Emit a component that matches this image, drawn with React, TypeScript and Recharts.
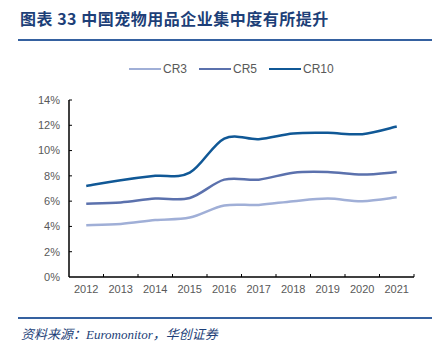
import { LineChart, Line, XAxis, YAxis } from 'recharts';

const years = ['2012', '2013', '2014', '2015', '2016', '2017', '2018', '2019', '2020', '2021'];
const cr3 = [4.1, 4.2, 4.5, 4.7, 5.65, 5.7, 6.0, 6.2, 6.0, 6.3];
const cr5 = [5.8, 5.9, 6.2, 6.25, 7.7, 7.7, 8.25, 8.3, 8.1, 8.3];
const cr10 = [7.2, 7.65, 8.0, 8.25, 10.95, 10.9, 11.35, 11.4, 11.3, 11.9];
const yTicks = [0, 2, 4, 6, 8, 10, 12, 14];

const data = years.map((year, i) => ({ year, cr3: cr3[i], cr5: cr5[i], cr10: cr10[i] }));

const series = [
  { key: 'cr3', name: 'CR3', color: '#a0afd7' },
  { key: 'cr5', name: 'CR5', color: '#5b71ad' },
  { key: 'cr10', name: 'CR10', color: '#105896' },
];

// excel-like smoothed line (catmull-rom through the points)
const smooth = (context: any) => {
  let pts: number[][] = [];
  return {
    areaStart() {},
    areaEnd() {},
    lineStart() { pts = []; },
    point(x: number, y: number) { pts.push([+x, +y]); },
    lineEnd() {
      if (!pts.length) return;
      context.moveTo(pts[0][0], pts[0][1]);
      for (let i = 0; i < pts.length - 1; i++) {
        const p0 = pts[Math.max(i - 1, 0)];
        const p1 = pts[i];
        const p2 = pts[i + 1];
        const p3 = pts[Math.min(i + 2, pts.length - 1)];
        context.bezierCurveTo(
          p1[0] + (p2[0] - p0[0]) / 6, p1[1] + (p2[1] - p0[1]) / 6,
          p2[0] - (p3[0] - p1[0]) / 6, p2[1] - (p3[1] - p1[1]) / 6,
          p2[0], p2[1]
        );
      }
    },
  };
};

const tickFont = { fontFamily: '"Liberation Sans", Arial, sans-serif', fontSize: 11, fill: '#595959' };
const STEP = 34.5;

const XTick = (props: any) => {
  const { x, y, payload } = props;
  return (
    <g>
      <line x1={x + STEP / 2} x2={x + STEP / 2} y1={y - 8} y2={y - 11} stroke="#000" strokeWidth={1} />
      <text x={x} y={y} dy="0.71em" textAnchor="middle" {...tickFont}>{payload.value}</text>
    </g>
  );
};

const YTick = (props: any) => {
  const { x, y, payload } = props;
  return (
    <g>
      {payload.value !== 0 && <line x1={x + 9} x2={x + 12} y1={y} y2={y} stroke="#000" strokeWidth={1} />}
      <text x={x} y={y} dy="0.355em" textAnchor="end" {...tickFont}>{payload.value}%</text>
    </g>
  );
};

const App = () => {
  return (
    <div style={{ position: 'fixed', left: 0, top: 0, width: 441, height: 345, background: '#fff', overflow: 'hidden' }}>
      <div style={{ position: 'absolute', left: 20, top: 6, fontFamily: '"Noto Sans CJK SC", sans-serif', fontWeight: 700, fontSize: 16, letterSpacing: 0.5, color: '#1d3f78', whiteSpace: 'nowrap' }}>
        图表 33 中国宠物用品企业集中度有所提升
      </div>
      <div style={{ position: 'absolute', left: 18, top: 39, width: 414, height: 2, background: '#3561a0' }} />

      <div style={{ position: 'absolute', left: 129, top: 62, display: 'flex', gap: 12 }}>
        {series.map((s) => (
          <div key={s.key} style={{ display: 'flex', alignItems: 'center', gap: 2, fontFamily: tickFont.fontFamily, fontSize: 12, color: '#595959' }}>
            <span style={{ display: 'inline-block', width: 32, height: 2.5, background: s.color }} />
            <span>{s.name}</span>
          </div>
        ))}
      </div>

      <div style={{ position: 'absolute', left: 0, top: 0 }}>
        <LineChart width={441} height={345} data={data} margin={{ top: 100, right: 27, bottom: 38, left: 0 }}>
          <XAxis
            dataKey="year"
            height={30}
            padding={{ left: STEP / 2, right: STEP / 2 }}
            axisLine={{ stroke: '#000', strokeWidth: 1.5 }}
            tickLine={false}
            tickSize={0}
            tickMargin={8}
            interval={0}
            tick={<XTick />}
          />
          <YAxis
            width={69}
            domain={[0, 14]}
            ticks={yTicks}
            interval={0}
            axisLine={{ stroke: '#000', strokeWidth: 1.5 }}
            tickLine={false}
            tickSize={0}
            tickMargin={9}
            tick={<YTick />}
          />
          {series.map((s) => (
            <Line
              key={s.key}
              dataKey={s.key}
              name={s.name}
              type={smooth as any}
              stroke={s.color}
              strokeWidth={2.5}
              dot={false}
              activeDot={false}
              isAnimationActive={false}
            />
          ))}
        </LineChart>
      </div>

      <div style={{ position: 'absolute', left: 18, top: 317, width: 414, height: 2, background: '#3561a0' }} />
      <div style={{ position: 'absolute', left: 21, top: 324, fontFamily: '"Liberation Serif", "Noto Sans CJK SC", serif', fontStyle: 'italic', fontSize: 13, color: '#1d3f78', whiteSpace: 'nowrap' }}>
        资料来源：Euromonitor，华创证券
      </div>
    </div>
  );
};

export default App;
